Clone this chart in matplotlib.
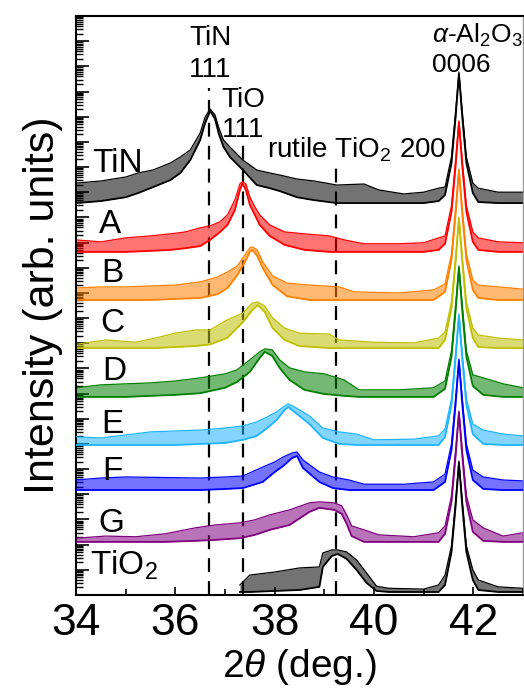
import numpy as np
import matplotlib
matplotlib.use("Agg")
import matplotlib.pyplot as plt
from matplotlib.ticker import LogLocator, NullFormatter, MultipleLocator, FixedLocator

plt.rcParams['font.family'] = ['Liberation Sans', 'DejaVu Sans']
plt.rcParams['mathtext.fontset'] = 'custom'
plt.rcParams['mathtext.rm'] = 'Liberation Sans'
plt.rcParams['mathtext.it'] = 'Liberation Sans:italic'
plt.rcParams['mathtext.bf'] = 'Liberation Sans:bold'
plt.rcParams['lines.scale_dashes'] = False

# ---------------- data (2theta in deg, intensity in counts; lo/hi = noise band) ----------------
SAMPLES = ["TiN", "A", "B", "C", "D", "E", "F", "G", "TiO$_2$"]
COLORS = ["#000000", "#FF0000", "#FF8000", "#BFBF00", "#008000", "#1EB4FF", "#0000FF", "#800080", "#000000"]
OFFSET_DECADES = [15.57, 13.63, 11.72, 9.81, 7.87, 5.96, 4.17, 2.11, 0.12]

TIN_X = [34.0, 34.5, 35.0, 35.25, 35.55, 35.9, 36.1, 36.3, 36.5, 36.6, 36.7, 36.8, 36.87, 36.97, 37.1, 37.36,
         37.64, 37.9, 38.1, 38.45, 38.8, 39.25, 39.8, 40.1, 40.6, 41.0, 41.3, 41.43, 41.56, 41.645, 41.71,
         41.775, 41.86, 41.99, 42.1, 42.5, 43.0]
TIN_LO = [1, 1.2, 1.7, 2.5, 4.3, 8.2, 15.6, 51, 318, 1510, 4520, 2175, 605, 168, 67.5, 20.5,
          5.2, 3.9, 3.0, 1.7, 1.3, 1, 1, 1, 1, 1, 1.2, 2.1, 38.9, 2860, 133000,
          2860, 38.9, 2.5, 1.1, 1, 1]
TIN_HI = [6.2, 7.5, 10.8, 15.6, 20.5, 38.9, 67.5, 128, 605, 2620, 5430, 3130, 1045, 318, 168, 51,
          20.5, 15.6, 13, 9.0, 7.5, 5.2, 5.7, 3.3, 2.3, 2.7, 3.9, 4.3, 67.5, 4950, 160000,
          4950, 67.5, 6.2, 3.9, 2.7, 2.7]

A_X = [34.0, 34.5, 35.0, 35.5, 35.9, 36.2, 36.5, 36.7, 36.9, 37.05, 37.2, 37.3, 37.35, 37.42, 37.5, 37.6,
       37.7, 37.9, 38.2, 38.6, 39.1, 39.4, 39.8, 40.5, 41.0, 41.3, 41.43, 41.56, 41.645, 41.71, 41.775,
       41.86, 41.99, 42.1, 42.5, 43.0]
A_LO = [1, 1, 1, 1.1, 1.2, 1.4, 1.7, 3.0, 6.2, 11.8, 46.8, 290, 503, 290, 74, 29.6,
        11.8, 4.3, 1.9, 1.2, 1, 1, 1, 1, 1, 1.2, 2.1, 38.9, 2860, 133000, 2860,
        38.9, 2.5, 1.2, 1, 1]
A_HI = [3.0, 2.5, 3.6, 4.3, 5.2, 6.2, 9.0, 10.8, 15.6, 29.6, 117, 503, 605, 503, 154, 61.6,
        29.6, 11.8, 6.2, 5.2, 4.3, 3.0, 2.1, 2.1, 2.3, 3.6, 4.3, 67.5, 4950, 160000, 4950,
        67.5, 6.2, 3.6, 2.5, 2.3]

B_X = [34.0, 34.5, 35.0, 35.5, 36.0, 36.5, 36.85, 37.05, 37.25, 37.4, 37.5, 37.55, 37.65, 37.76, 37.96,
       38.25, 38.7, 39.3, 39.6, 40.5, 41.2, 41.43, 41.56, 41.645, 41.71, 41.775, 41.86, 41.99, 42.1, 42.5, 43.0]
B_LO = [1, 1, 1, 1, 1.1, 1.2, 1.7, 3.0, 9.9, 32.4, 81, 97, 56, 18.7, 3.9,
        1.4, 1, 1, 1, 1, 1, 2.1, 38.9, 2860, 133000, 2860, 38.9, 2.5, 1.2, 1, 1]
B_HI = [3.0, 3.3, 3.3, 3.6, 3.9, 5.2, 8.2, 13, 22.5, 61.6, 117, 128, 97, 32.4, 9.0,
        4.7, 3.9, 3.3, 2.1, 1.9, 2.5, 4.3, 67.5, 4950, 160000, 4950, 67.5, 6.2, 3.9, 3.3, 2.7]

C_X = [34.0, 34.6, 35.2, 35.6, 36.0, 36.4, 36.7, 37.04, 37.36, 37.55, 37.66, 37.8, 37.96, 38.2, 38.5,
       39.1, 39.3, 40.0, 40.8, 41.3, 41.43, 41.56, 41.645, 41.71, 41.775, 41.86, 41.99, 42.1, 42.5, 43.0]
C_LO = [1, 1, 1, 1, 1.1, 1.2, 1.4, 2.5, 10.8, 32.4, 51, 27, 6.2, 2.1, 1.2,
        1, 1, 1, 1, 1, 2.1, 38.9, 2860, 133000, 2860, 38.9, 2.5, 1.1, 1, 1]
C_HI = [1.4, 2.1, 1.7, 2.5, 3.9, 5.2, 5.2, 13, 24.6, 61.6, 67.5, 46.8, 15.6, 6.2, 3.9,
        3.6, 2.1, 1.7, 1.6, 2.5, 4.3, 67.5, 4950, 160000, 4950, 67.5, 6.2, 3.3, 2.5, 2.1]

D_X = [34.0, 34.5, 35.0, 35.5, 36.0, 36.5, 37.0, 37.24, 37.5, 37.7, 37.8, 37.95, 38.1, 38.3, 38.6,
       39.0, 39.4, 39.7, 40.5, 41.2, 41.43, 41.56, 41.645, 41.71, 41.775, 41.86, 41.99, 42.2, 42.6, 43.0]
D_LO = [1, 1, 1, 1.1, 1.2, 1.4, 2.3, 3.9, 9.9, 35.5, 61.6, 42.7, 14.2, 4.7, 1.9,
        1.3, 1.1, 1, 1, 1, 2.1, 38.9, 2860, 133000, 2860, 38.9, 2.7, 1.2, 1, 1]
D_HI = [2.3, 3.0, 3.3, 3.6, 4.3, 5.7, 8.2, 11.8, 29.6, 61.6, 81, 73.9, 29.6, 14.2, 9.9,
        8.2, 4.7, 1.9, 1.9, 2.3, 4.3, 67.5, 4950, 160000, 4950, 67.5, 7.5, 5.7, 3.3, 2.3]

E_X = [34.0, 34.5, 35.0, 35.5, 36.0, 36.5, 37.0, 37.36, 37.64, 37.85, 38.04, 38.2, 38.27, 38.4, 38.7,
       38.97, 39.3, 39.65, 40.0, 40.8, 41.3, 41.43, 41.56, 41.645, 41.71, 41.775, 41.86, 41.99, 42.2, 42.6, 43.0]
E_LO = [1, 1, 1, 1, 1, 1.1, 1.2, 1.6, 2.3, 4.7, 9.9, 24.6, 32.4, 20.5, 6.8,
        1.9, 1.1, 1, 1, 1, 1, 2.1, 38.9, 2860, 133000, 2860, 38.9, 2.7, 1.1, 1, 1]
E_HI = [2.1, 1.9, 2.5, 3.3, 3.6, 3.9, 4.7, 5.7, 8.2, 13, 20.5, 35.5, 42.7, 32.4, 14.2,
        4.7, 3.3, 2.7, 1.6, 1.7, 2.3, 4.3, 67.5, 4950, 160000, 4950, 67.5, 6.8, 3.9, 2.7, 2.3]

F_X = [34.0, 34.5, 35.0, 36.5, 37.0, 37.36, 37.76, 38.0, 38.17, 38.35, 38.45, 38.57, 38.9, 39.17, 39.5,
       39.8, 40.6, 41.2, 41.43, 41.56, 41.645, 41.71, 41.775, 41.86, 41.99, 42.2, 42.6, 43.0]
F_LO = [1, 1, 1, 1, 1.1, 1.2, 2.1, 5.2, 9.0, 18.7, 22.5, 7.5, 2.1, 1.2, 1,
        1, 1, 1, 2.1, 38.9, 2860, 133000, 2860, 38.9, 2.5, 1.1, 1, 1]
F_HI = [2.5, 3.0, 3.3, 3.0, 3.3, 3.6, 8.2, 13, 20.5, 29.6, 32.4, 15.6, 5.2, 3.3, 2.5,
        1.7, 1.7, 2.1, 4.3, 67.5, 4950, 160000, 4950, 67.5, 6.2, 3.3, 2.5, 2.3]

G_X = [34.0, 34.6, 35.2, 35.8, 36.4, 36.8, 37.3, 37.6, 37.9, 38.3, 38.7, 38.9, 39.2, 39.35, 39.45,
       39.55, 39.8, 40.1, 40.8, 41.3, 41.43, 41.56, 41.645, 41.71, 41.775, 41.86, 41.99, 42.2, 42.6, 43.0]
G_LO = [1, 1, 1, 1, 1.1, 1.2, 1.4, 1.9, 3.0, 4.7, 15.6, 22.5, 18.7, 13, 5.2,
        1.7, 1, 1, 1, 1, 2.1, 38.9, 2860, 133000, 2860, 38.9, 2.5, 1.1, 1, 1]
G_HI = [1.4, 1.7, 1.6, 2.1, 3.6, 4.7, 5.7, 7.5, 11.8, 18.7, 35.5, 38.9, 35.5, 27, 11.8,
        4.3, 3.0, 1.9, 1.6, 2.3, 4.3, 67.5, 4950, 160000, 4950, 67.5, 7.5, 3.6, 1.7, 2.3]

TIO2_X = [37.3, 37.5, 38.0, 38.5, 38.9, 38.97, 39.15, 39.27, 39.45, 39.65, 39.85, 40.05, 40.3, 41.0, 41.3,
          41.43, 41.56, 41.645, 41.71, 41.775, 41.86, 41.99, 42.1, 42.5, 43.0]
TIO2_LO = [1, 1, 1.1, 1.2, 1.6, 9.9, 27, 32.4, 20.5, 7.5, 2.3, 1.1, 1, 1, 1,
           1.9, 38.9, 2860, 133000, 2860, 38.9, 3.0, 1.2, 1, 1]
TIO2_HI = [1.9, 4.7, 6.2, 9.0, 9.9, 35.5, 46.8, 46.8, 38.9, 18.7, 5.7, 1.7, 1.4, 1.3, 1.9,
           4.7, 67.5, 4950, 160000, 4950, 67.5, 7.5, 3.0, 1.6, 1.4]

CURVES = [(TIN_X, TIN_LO, TIN_HI), (A_X, A_LO, A_HI), (B_X, B_LO, B_HI), (C_X, C_LO, C_HI),
          (D_X, D_LO, D_HI), (E_X, E_LO, E_HI), (F_X, F_LO, F_HI), (G_X, G_LO, G_HI),
          (TIO2_X, TIO2_LO, TIO2_HI)]

REF_POS = [36.68, 37.36, 39.23]          # TiN 111, TiO 111, rutile TiO2 200
REF_TOP = [10**20.14, 10**17.96, 10**16.96]

# ---------------- figure ----------------
W, H = 524, 696
fig = plt.figure(figsize=(W / 100, H / 100), dpi=100)
L, R, T, B = 76, 523, 16, 595
ax = fig.add_axes([L / W, (H - B) / H, (R - L) / W, (B - T) / H])

ax.set_yscale('log')
ax.set_xlim(34, 43)
ax.set_ylim(1, 1e23)

for xr, yt in zip(REF_POS, REF_TOP):
    ax.plot([xr, xr], [1, yt], color='black', lw=1.6, dashes=(10, 6.5), zorder=1.5)

for i, ((xs, lo, hi), col) in enumerate(zip(CURVES, COLORS)):
    f = 10 ** OFFSET_DECADES[i]
    xs = np.asarray(xs, float)
    ylo = np.asarray(lo, float) * f
    yhi = np.asarray(hi, float) * f
    z = 2 + i * 0.1
    ax.fill_between(xs, ylo, yhi, color=col, alpha=0.55, lw=0, zorder=z)
    ax.plot(xs, yhi, color=col, lw=0.9, zorder=z + 0.01)
    ax.plot(xs, ylo, color=col, lw=1.3, zorder=z + 0.01)

# axes styling
for s in ax.spines.values():
    s.set_linewidth(1.5)
ax.spines['right'].set_color('#999999')
ax.spines['right'].set_linewidth(1.0)
ax.xaxis.set_major_locator(FixedLocator([34, 36, 38, 40, 42]))
ax.xaxis.set_minor_locator(MultipleLocator(1))
ax.yaxis.set_major_locator(LogLocator(base=10, numticks=40))
ax.yaxis.set_minor_locator(LogLocator(base=10, subs=np.arange(2, 10), numticks=40))
ax.yaxis.set_major_formatter(NullFormatter())
ax.yaxis.set_minor_formatter(NullFormatter())
ax.tick_params(which='both', direction='in', top=False, right=False)
ax.tick_params(axis='x', which='major', length=6, width=1.2, labelsize=32, pad=6)
ax.tick_params(axis='x', which='minor', length=4, width=1.2)
ax.tick_params(axis='y', which='major', length=9, width=1.2)
ax.tick_params(axis='y', which='minor', length=5, width=1.0)

ax.set_xlabel(r'2$\theta$ (deg.)', fontsize=28, labelpad=2)
ax.set_ylabel('Intensity (arb. units)', fontsize=31, labelpad=6)

xt = ax.get_xaxis_transform()


def yf(px):
    return (B - px) / (B - T)


# peak annotations
ax.text(36.70, yf(45), 'TiN', transform=xt, ha='center', va='baseline', fontsize=20)
ax.text(36.70, yf(77), '111', transform=xt, ha='center', va='baseline', fontsize=20)
ax.text(37.36, yf(107), 'TiO', transform=xt, ha='center', va='baseline', fontsize=20)
ax.text(37.36, yf(137), '111', transform=xt, ha='center', va='baseline', fontsize=20)
ax.text(37.84, yf(157), 'rutile TiO$_2$ 200', transform=xt, ha='left', va='baseline', fontsize=20)
ax.text(41.16, yf(43), r'$\alpha$-Al$_2$O$_3$', transform=xt, ha='left', va='baseline', fontsize=19)
ax.text(41.16, yf(72), '0006', transform=xt, ha='left', va='baseline', fontsize=19)

# sample labels
LAB_X = [34.32, 34.46, 34.50, 34.48, 34.52, 34.50, 34.52, 34.46, 34.28]
LAB_BASE_PX = [172, 233, 282, 332, 380, 433, 480, 532, 575]
for name, lx, bp in zip(SAMPLES, LAB_X, LAB_BASE_PX):
    ax.text(lx, yf(bp), name, transform=xt, ha='left', va='baseline', fontsize=24, zorder=5)

fig.savefig('out.png', dpi=100)
